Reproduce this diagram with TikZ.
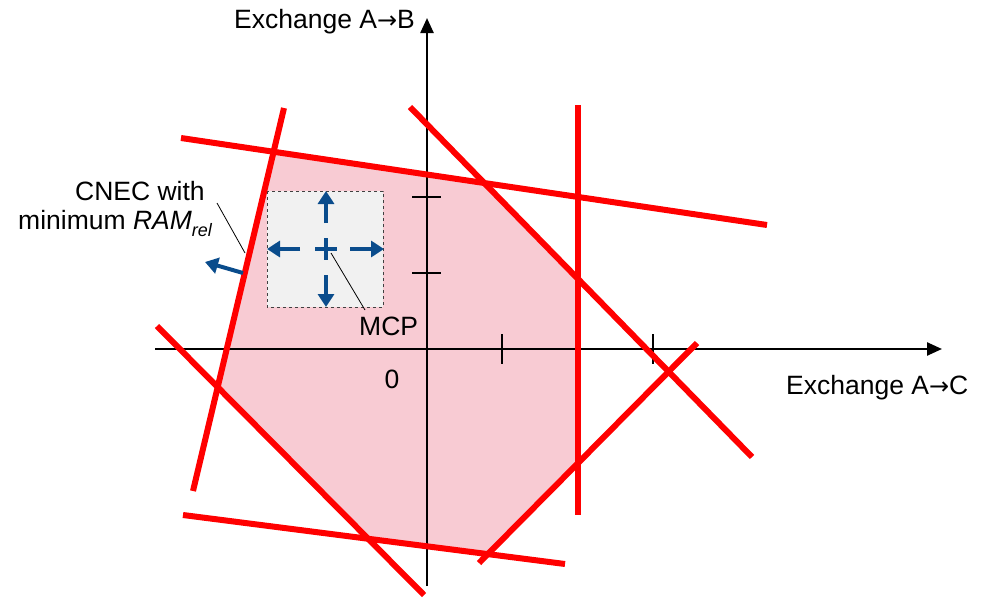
\documentclass[tikz,border=0pt]{standalone}
\usepackage{fontspec}
\setmainfont{Liberation Sans}
\newfontfamily\arrowfont{DejaVu Sans}
\newcommand{\rarr}{{\arrowfont\fontsize{24}{24}\selectfont →}}
\usetikzlibrary{arrows.meta}
\definecolor{redline}{RGB}{255,0,0}
\definecolor{pinkfill}{RGB}{248,203,211}
\definecolor{boxgray}{RGB}{241,241,241}
\definecolor{darkblue}{RGB}{10,76,140}
\tikzset{
  redln/.style={draw=redline,line width=6pt},
  axis/.style={line width=2.4pt,-{Triangle[length=15pt,width=13pt]}},
  tick/.style={line width=2pt},
  bluearr/.style={draw=darkblue,line width=4pt,-{Triangle[length=13pt,width=16pt]}},
  leader/.style={line width=0.8pt},
  lbl/.style={font=\fontsize{26.5}{30}\selectfont,inner sep=0pt},
}
\begin{document}
\begin{tikzpicture}[x=1pt,y=-1pt]
\useasboundingbox (0,0) rectangle (984,597);
% line end points
\coordinate (t1) at (181,138); \coordinate (t2) at (767,225);
\coordinate (s1) at (284,108); \coordinate (s2) at (193,491);
\coordinate (r1) at (410,107); \coordinate (r2) at (752,457);
\coordinate (v1) at (578,105); \coordinate (v2) at (578,515);
\coordinate (b1) at (479,563); \coordinate (b2) at (697,343);
\coordinate (m1) at (183,515); \coordinate (m2) at (565,564);
\coordinate (l1) at (157,326); \coordinate (l2) at (424,595);
% polygon vertices
\coordinate (p1) at (intersection of t1--t2 and s1--s2);
\coordinate (p2) at (intersection of t1--t2 and r1--r2);
\coordinate (p3) at (intersection of r1--r2 and v1--v2);
\coordinate (p4) at (intersection of v1--v2 and b1--b2);
\coordinate (p5) at (intersection of b1--b2 and m1--m2);
\coordinate (p6) at (intersection of m1--m2 and l1--l2);
\coordinate (p7) at (intersection of l1--l2 and s1--s2);
\fill[pinkfill,draw=black,line width=0.8pt] (p1)--(p2)--(p3)--(p4)--(p5)--(p6)--(p7)--cycle;
% dashed box
\draw[fill=boxgray,draw=black!75,dashed,line width=1pt] (267,191) rectangle (383,307);
% axes
\coordinate (xa) at (155,349); \coordinate (xb) at (942,349);
\coordinate (ya) at (427,586); \coordinate (yb) at (427,18);
\draw[axis] (xa) -- (xb);
\draw[axis] (ya) -- (yb);
\draw[tick] (502,334) -- (502,364);
\draw[tick] (653,334) -- (653,364);
\draw[tick] (412,197) -- (441,197);
\draw[tick] (412,273) -- (441,273);
% red constraint lines
\draw[redln] (t1) -- (t2);
\draw[redln] (s1) -- (s2);
\draw[redln] (r1) -- (r2);
\draw[redln] (v1) -- (v2);
\draw[redln] (b1) -- (b2);
\draw[redln] (m1) -- (m2);
\draw[redln] (l1) -- (l2);
% MCP plus and arrows
\coordinate (mcp) at (326,249);
\draw[draw=darkblue,line width=4pt] (315,249) -- (337,249) (326,238) -- (326,260);
\draw[bluearr] (326,223) -- (326,191);
\draw[bluearr] (326,275) -- (326,307);
\draw[bluearr] (300,249) -- (267,249);
\draw[bluearr] (350,249) -- (384,249);
\draw[bluearr] (243,273) -- (205,262);
% labels
\node[lbl,anchor=base west] (lab) at (234,28) {Exchange A\rarr B};
\node[lbl,anchor=base west] (lac) at (786,394) {Exchange A\rarr C};
\node[lbl,anchor=base] (zero) at (392,388) {0};
\node[lbl,anchor=base west] (mcplbl) at (359,335) {MCP};
\node[lbl,anchor=base west] (cnec1) at (75,200) {CNEC with};
\node[lbl,anchor=base west] (cnec2) at (18,229) {minimum \textit{RAM}\raisebox{-0.3em}{\fontsize{18}{18}\selectfont\textit{rel}}};
\coordinate (c1) at (217,203);
\coordinate (c2) at (245,253);
\coordinate (mc) at (365,310);
\draw[leader] (mcp) ++(5,4) -- (mc);
\draw[leader] (c1) -- (c2);
\end{tikzpicture}
\end{document}
